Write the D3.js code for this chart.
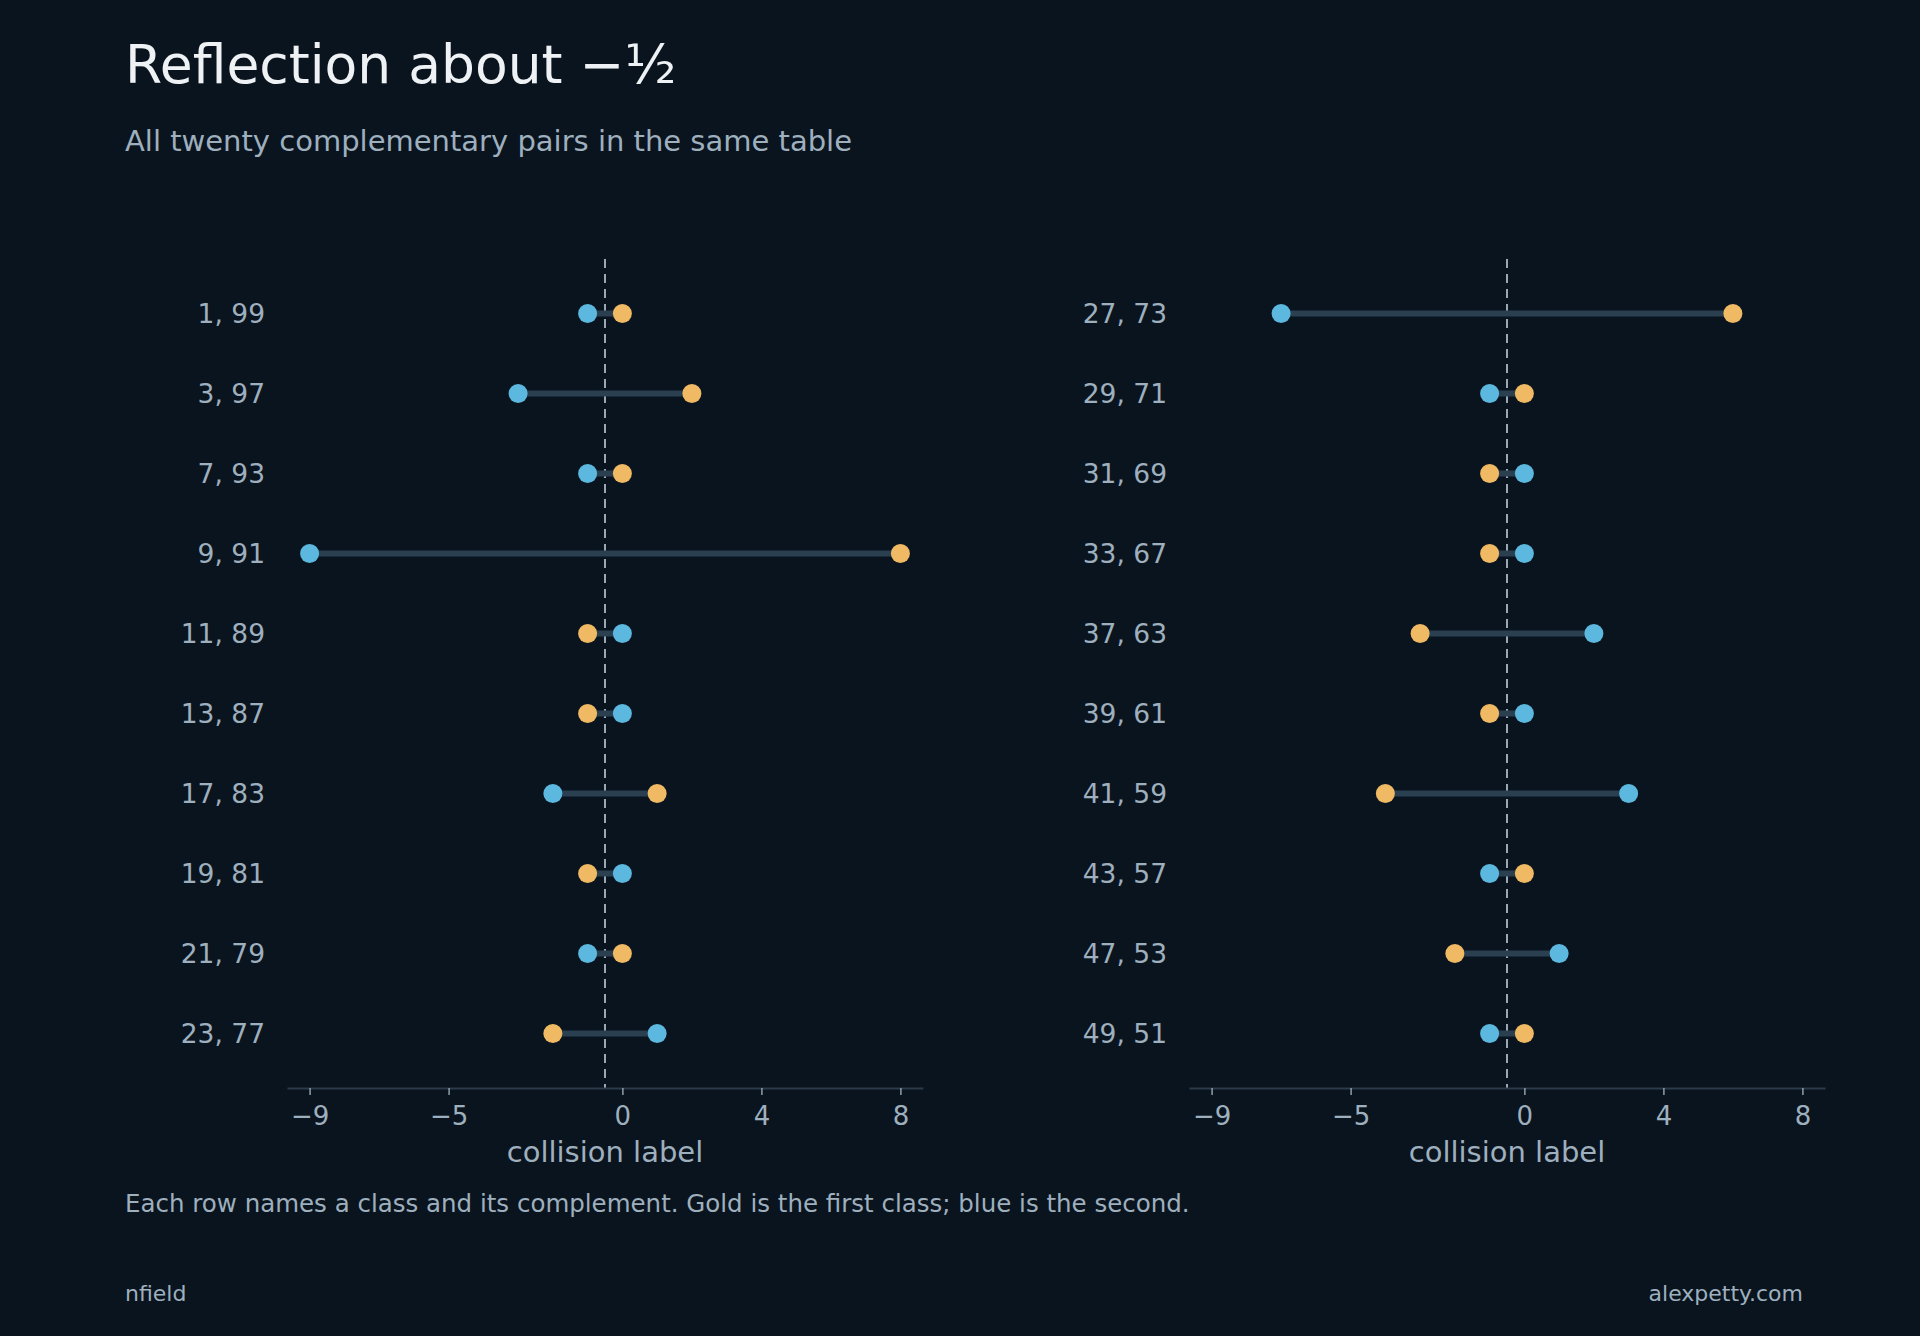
<!DOCTYPE html>
<html>
<head>
<meta charset="utf-8">
<script src="https://cdn.jsdelivr.net/npm/d3@7"></script>
<style>
  html, body { margin: 0; padding: 0; background: #0a141e; }
  svg { display: block; font-family: "DejaVu Sans", sans-serif; }
</style>
</head>
<body>
<div id="chart"></div>
<script>
// data: gold = first class, blue = second (complement)
const leftPairs = ["1, 99", "3, 97", "7, 93", "9, 91", "11, 89", "13, 87", "17, 83", "19, 81", "21, 79", "23, 77"];
const leftGold = [0, 2, 0, 8, -1, -1, 1, -1, 0, -2];
const leftBlue = [-1, -3, -1, -9, 0, 0, -2, 0, -1, 1];

const rightPairs = ["27, 73", "29, 71", "31, 69", "33, 67", "37, 63", "39, 61", "41, 59", "43, 57", "47, 53", "49, 51"];
const rightGold = [6, 0, -1, -1, -3, -1, -4, 0, -2, 0];
const rightBlue = [-7, -1, 0, 0, 2, 0, 3, -1, 1, -1];

const tickValues = [-9, -5, 0, 4, 8];
const xDomain = [-9.65, 8.65];
const reflectAt = -0.5;

const width = 1920;
const height = 1336;

const colors = {
  bg: "#0a141e",
  gold: "#f0b964",
  blue: "#5cb8de",
  link: "#2a3f50",
  axis: "#2b3b49",
  tick: "#8e9eac",
  text: "#9eafbe",
  title: "#eef2f5",
  dash: "#9aa8b4"
};

const svg = d3.select("#chart")
  .append("svg")
  .attr("width", width)
  .attr("height", height);

svg.append("rect")
  .attr("width", width)
  .attr("height", height)
  .attr("fill", colors.bg);

// titles
svg.append("text")
  .attr("x", 125)
  .attr("y", 83)
  .attr("fill", colors.title)
  .style("font-size", "53.5px")
  .text("Reflection about \u2212\u00bd");

svg.append("text")
  .attr("x", 125)
  .attr("y", 151)
  .attr("fill", colors.text)
  .style("font-size", "29px")
  .text("All twenty complementary pairs in the same table");

const y = d3.scalePoint()
  .domain(d3.range(10))
  .range([259, 1088])
  .padding(0.68);

const axisY = 1088;

function drawPanel(pairs, gold, blue, left, right) {
  const x = d3.scaleLinear().domain(xDomain).range([left, right]);
  const g = svg.append("g");

  // reflection line
  g.append("line")
    .attr("x1", x(reflectAt))
    .attr("x2", x(reflectAt))
    .attr("y1", 259)
    .attr("y2", axisY)
    .attr("stroke", colors.dash)
    .attr("stroke-width", 2)
    .attr("stroke-dasharray", "9,6");

  const rows = pairs.map((p, i) => ({ pair: p, gold: gold[i], blue: blue[i], i: i }));

  g.selectAll(".link")
    .data(rows)
    .enter()
    .append("line")
    .attr("class", "link")
    .attr("x1", d => x(d.gold))
    .attr("x2", d => x(d.blue))
    .attr("y1", d => y(d.i))
    .attr("y2", d => y(d.i))
    .attr("stroke", colors.link)
    .attr("stroke-width", 6);

  g.selectAll(".gold")
    .data(rows)
    .enter()
    .append("circle")
    .attr("class", "gold")
    .attr("cx", d => x(d.gold))
    .attr("cy", d => y(d.i))
    .attr("r", 9.5)
    .attr("fill", colors.gold);

  g.selectAll(".blue")
    .data(rows)
    .enter()
    .append("circle")
    .attr("class", "blue")
    .attr("cx", d => x(d.blue))
    .attr("cy", d => y(d.i))
    .attr("r", 9.5)
    .attr("fill", colors.blue);

  // row labels
  g.selectAll(".rowlabel")
    .data(rows)
    .enter()
    .append("text")
    .attr("class", "rowlabel")
    .attr("x", left - 22)
    .attr("y", d => y(d.i))
    .attr("dy", "0.35em")
    .attr("text-anchor", "end")
    .attr("fill", colors.text)
    .style("font-size", "26.5px")
    .text(d => d.pair);

  // x axis
  const axis = g.append("g")
    .attr("transform", `translate(0, ${axisY})`)
    .call(d3.axisBottom(x).tickValues(tickValues).tickSize(7).tickPadding(12).tickSizeOuter(0));

  axis.select(".domain")
    .attr("stroke", colors.axis)
    .attr("stroke-width", 2);
  axis.selectAll(".tick line")
    .attr("stroke", colors.tick)
    .attr("stroke-width", 1.5);
  axis.selectAll(".tick text")
    .attr("fill", colors.text)
    .style("font-size", "26px")
    .style("font-family", "DejaVu Sans, sans-serif");

  g.append("text")
    .attr("x", (left + right) / 2)
    .attr("y", 1162)
    .attr("text-anchor", "middle")
    .attr("fill", colors.text)
    .style("font-size", "29px")
    .text("collision label");
}

drawPanel(leftPairs, leftGold, leftBlue, 287, 923);
drawPanel(rightPairs, rightGold, rightBlue, 1189, 1825);

// caption and footer
svg.append("text")
  .attr("x", 125)
  .attr("y", 1212)
  .attr("fill", colors.text)
  .style("font-size", "24.5px")
  .text("Each row names a class and its complement. Gold is the first class; blue is the second.");

svg.append("text")
  .attr("x", 125)
  .attr("y", 1301)
  .attr("fill", colors.text)
  .style("font-size", "22px")
  .text("nfield");

svg.append("text")
  .attr("x", 1803)
  .attr("y", 1301)
  .attr("text-anchor", "end")
  .attr("fill", colors.text)
  .style("font-size", "22px")
  .text("alexpetty.com");
</script>
</body>
</html>
